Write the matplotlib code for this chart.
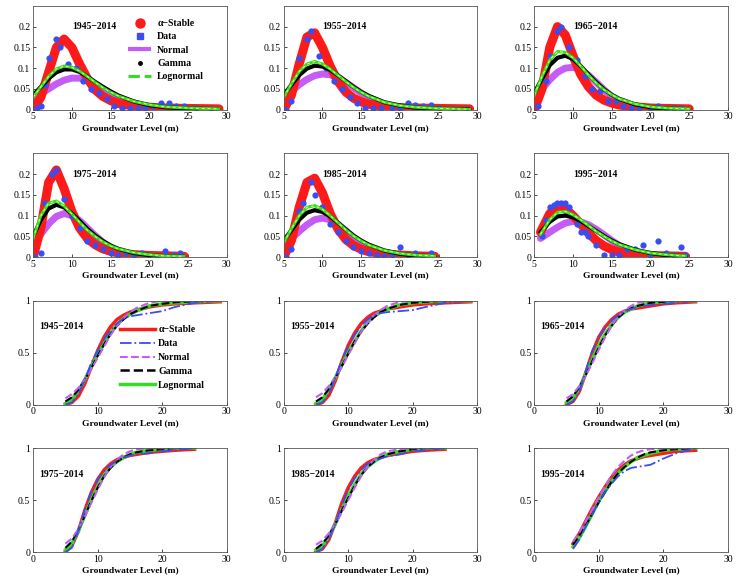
#Graficos das distribuicoes (PDF e CDF) do nivel da agua subterranea
import matplotlib
matplotlib.use('Agg')
import matplotlib.pyplot as plt
from matplotlib.lines import Line2D

periodos = ['1945\u22122014', '1955\u22122014', '1965\u22122014',
            '1975\u22122014', '1985\u22122014', '1995\u22122014']

# ---------------- PDF: grade x de cada periodo ----------------
x_pdf = [
    [5, 6, 7, 8, 9, 10, 11, 12, 13, 14, 15, 16, 18, 20, 22, 25, 29],
    [5, 6, 7, 8, 9, 10, 11, 12, 13, 14, 15, 16, 18, 20, 22, 25, 29],
    [5, 6, 7, 8, 9, 10, 11, 12, 13, 14, 15, 16, 18, 20, 22, 25],
    [5, 6, 7, 8, 9, 10, 11, 12, 13, 14, 15, 16, 18, 20, 22, 24.5],
    [5, 6, 7, 8, 9, 10, 11, 12, 13, 14, 15, 16, 18, 20, 22, 24.5],
    [5.8, 7, 8, 9, 10, 11, 12, 13, 14, 15, 16, 18, 20, 22, 24.5],
]
stable_pdf = [
    [0.0, 0.03, 0.09, 0.15, 0.17, 0.15, 0.11, 0.075, 0.048, 0.032, 0.022, 0.015, 0.009, 0.006, 0.004, 0.003, 0.002],
    [0.0, 0.035, 0.11, 0.175, 0.185, 0.15, 0.105, 0.068, 0.043, 0.028, 0.019, 0.013, 0.008, 0.005, 0.004, 0.003, 0.002],
    [0.0, 0.05, 0.15, 0.2, 0.18, 0.13, 0.085, 0.055, 0.035, 0.023, 0.016, 0.011, 0.007, 0.004, 0.003, 0.002],
    [0.0, 0.07, 0.18, 0.21, 0.165, 0.11, 0.07, 0.045, 0.03, 0.02, 0.014, 0.01, 0.006, 0.004, 0.003, 0.002],
    [0.0, 0.04, 0.12, 0.18, 0.19, 0.155, 0.105, 0.068, 0.043, 0.028, 0.019, 0.013, 0.008, 0.005, 0.003, 0.002],
    [0.06, 0.105, 0.12, 0.117, 0.1, 0.08, 0.058, 0.04, 0.027, 0.018, 0.012, 0.006, 0.004, 0.003, 0.002],
]
normal_pdf = [
    [0.025, 0.038, 0.05, 0.062, 0.071, 0.076, 0.076, 0.071, 0.062, 0.051, 0.04, 0.03, 0.015, 0.006, 0.002, 0.0005, 0.0],
    [0.03, 0.045, 0.06, 0.073, 0.082, 0.086, 0.084, 0.077, 0.066, 0.053, 0.04, 0.029, 0.013, 0.004, 0.001, 0.0, 0.0],
    [0.03, 0.05, 0.072, 0.09, 0.1, 0.102, 0.096, 0.083, 0.066, 0.048, 0.032, 0.02, 0.006, 0.001, 0.0, 0.0],
    [0.03, 0.055, 0.08, 0.098, 0.105, 0.1, 0.088, 0.07, 0.052, 0.036, 0.023, 0.013, 0.004, 0.001, 0.0, 0.0],
    [0.03, 0.045, 0.062, 0.078, 0.09, 0.094, 0.09, 0.079, 0.064, 0.048, 0.034, 0.022, 0.008, 0.002, 0.0, 0.0],
    [0.045, 0.06, 0.072, 0.082, 0.086, 0.085, 0.078, 0.067, 0.054, 0.04, 0.028, 0.011, 0.003, 0.001, 0.0],
]
gamma_pdf = [
    [0.035, 0.055, 0.075, 0.09, 0.097, 0.097, 0.091, 0.08, 0.067, 0.055, 0.044, 0.034, 0.02, 0.011, 0.006, 0.003, 0.001],
    [0.035, 0.06, 0.083, 0.099, 0.106, 0.104, 0.096, 0.083, 0.069, 0.055, 0.043, 0.033, 0.018, 0.01, 0.005, 0.002, 0.001],
    [0.04, 0.075, 0.107, 0.125, 0.13, 0.122, 0.105, 0.085, 0.066, 0.049, 0.036, 0.026, 0.013, 0.006, 0.003, 0.001],
    [0.05, 0.09, 0.117, 0.126, 0.12, 0.105, 0.087, 0.068, 0.052, 0.039, 0.028, 0.02, 0.01, 0.005, 0.002, 0.001],
    [0.04, 0.065, 0.09, 0.107, 0.113, 0.109, 0.098, 0.083, 0.067, 0.052, 0.04, 0.03, 0.016, 0.008, 0.004, 0.002],
    [0.06, 0.085, 0.098, 0.1, 0.096, 0.087, 0.075, 0.063, 0.051, 0.04, 0.031, 0.018, 0.01, 0.005, 0.002],
]
lognormal_pdf = [
    [0.03, 0.055, 0.08, 0.098, 0.105, 0.102, 0.093, 0.08, 0.066, 0.053, 0.042, 0.033, 0.02, 0.012, 0.007, 0.004, 0.002],
    [0.03, 0.062, 0.092, 0.11, 0.116, 0.11, 0.098, 0.083, 0.068, 0.054, 0.042, 0.032, 0.018, 0.01, 0.006, 0.003, 0.001],
    [0.035, 0.08, 0.12, 0.14, 0.138, 0.125, 0.105, 0.083, 0.064, 0.048, 0.036, 0.026, 0.014, 0.007, 0.004, 0.002],
    [0.045, 0.1, 0.13, 0.135, 0.123, 0.104, 0.084, 0.065, 0.05, 0.037, 0.027, 0.02, 0.011, 0.006, 0.003, 0.002],
    [0.035, 0.068, 0.1, 0.12, 0.124, 0.115, 0.1, 0.083, 0.066, 0.051, 0.039, 0.029, 0.016, 0.009, 0.005, 0.003],
    [0.055, 0.09, 0.108, 0.11, 0.102, 0.09, 0.076, 0.062, 0.05, 0.039, 0.03, 0.018, 0.01, 0.006, 0.003],
]
# pontos dos dados (histograma normalizado)
dados_x = [
    [5.5, 6, 6.5, 7, 8, 8.5, 9.5, 10.5, 11.5, 12.5, 13.5, 14.5, 15.5, 16.5, 17.5, 18.5, 19.5, 20.5, 21.5, 22.5, 23.5, 24.5, 26, 28],
    [5.3, 6, 7, 8, 8.5, 9.5, 10.5, 11.5, 12.5, 13.5, 14.5, 15.5, 16.5, 17.5, 19, 20, 21, 22, 23, 24, 25, 27, 28.5],
    [5.5, 6.5, 7, 8, 8.5, 9.5, 10.5, 11.5, 12.5, 13.5, 14.5, 15.5, 16.5, 17.5, 18.5, 20, 21, 22, 23, 24],
    [5.3, 6, 6.5, 7.5, 8, 9, 10, 11, 12, 13, 14, 15, 16, 17, 18, 19, 20, 21, 22, 23, 24],
    [5.3, 6, 7, 7.5, 8.5, 9, 10, 11, 12, 13, 14, 15, 16, 17, 18, 19, 20, 21, 22, 23, 24],
    [6, 6.5, 7, 7.5, 8, 8.5, 9, 9.5, 10, 10.5, 11, 11.5, 12, 13, 14, 15, 16, 17, 18, 19, 20, 21, 22, 23, 24, 24.5],
]
dados_y = [
    [0.005, 0.01, 0.06, 0.125, 0.17, 0.15, 0.11, 0.1, 0.07, 0.05, 0.04, 0.025, 0.01, 0.005, 0.003, 0.003, 0.005, 0.01, 0.015, 0.015, 0.01, 0.01, 0.003, 0.002],
    [0.0, 0.02, 0.125, 0.17, 0.19, 0.13, 0.1, 0.07, 0.05, 0.03, 0.015, 0.005, 0.003, 0.003, 0.003, 0.005, 0.015, 0.012, 0.008, 0.012, 0.003, 0.002, 0.002],
    [0.01, 0.07, 0.13, 0.19, 0.2, 0.15, 0.12, 0.08, 0.05, 0.045, 0.02, 0.02, 0.01, 0.005, 0.005, 0.003, 0.01, 0.005, 0.003, 0.005],
    [0.0, 0.01, 0.13, 0.2, 0.21, 0.14, 0.1, 0.07, 0.04, 0.03, 0.02, 0.01, 0.005, 0.01, 0.005, 0.01, 0.005, 0.003, 0.015, 0.005, 0.01],
    [0.0, 0.02, 0.11, 0.13, 0.18, 0.15, 0.12, 0.08, 0.06, 0.04, 0.025, 0.015, 0.01, 0.005, 0.003, 0.005, 0.025, 0.005, 0.01, 0.003, 0.01],
    [0.05, 0.09, 0.12, 0.125, 0.13, 0.13, 0.13, 0.12, 0.1, 0.08, 0.06, 0.06, 0.05, 0.03, 0.005, 0.005, 0.005, 0.02, 0.02, 0.03, 0.005, 0.04, 0.01, 0.005, 0.025, 0.005],
]

# ---------------- CDF ----------------
x_cdf = [
    [5, 6, 7, 8, 9, 10, 11, 12, 13, 14, 15, 16, 18, 20, 22, 25, 29],
    [5, 6, 7, 8, 9, 10, 11, 12, 13, 14, 15, 16, 18, 20, 22, 25, 29],
    [5, 6, 7, 8, 9, 10, 11, 12, 13, 14, 15, 16, 18, 20, 22, 25],
    [5, 6, 7, 8, 9, 10, 11, 12, 13, 14, 15, 16, 18, 20, 22, 25],
    [5, 6, 7, 8, 9, 10, 11, 12, 13, 14, 15, 16, 18, 20, 22, 25],
    [6, 7, 8, 9, 10, 11, 12, 13, 14, 15, 16, 17, 18, 20, 22, 25],
]
stable_cdf = [
    [0.0, 0.02, 0.08, 0.2, 0.36, 0.52, 0.65, 0.75, 0.82, 0.86, 0.89, 0.91, 0.94, 0.96, 0.97, 0.98, 0.99],
    [0.0, 0.02, 0.09, 0.23, 0.41, 0.57, 0.69, 0.78, 0.84, 0.88, 0.9, 0.92, 0.94, 0.96, 0.97, 0.98, 0.99],
    [0.0, 0.03, 0.13, 0.31, 0.5, 0.65, 0.75, 0.82, 0.87, 0.9, 0.92, 0.93, 0.95, 0.97, 0.98, 0.99],
    [0.0, 0.06, 0.2, 0.4, 0.57, 0.7, 0.79, 0.85, 0.89, 0.91, 0.93, 0.94, 0.96, 0.97, 0.98, 0.99],
    [0.0, 0.03, 0.12, 0.28, 0.47, 0.62, 0.73, 0.81, 0.86, 0.89, 0.91, 0.93, 0.95, 0.97, 0.98, 0.99],
    [0.08, 0.18, 0.3, 0.42, 0.53, 0.63, 0.72, 0.79, 0.84, 0.88, 0.9, 0.92, 0.93, 0.95, 0.97, 0.98],
]
dados_cdf = [
    [0.0, 0.02, 0.1, 0.24, 0.4, 0.52, 0.63, 0.72, 0.78, 0.83, 0.85, 0.86, 0.88, 0.9, 0.94, 0.98, 1.0],
    [0.0, 0.02, 0.1, 0.26, 0.43, 0.56, 0.67, 0.76, 0.82, 0.86, 0.88, 0.89, 0.9, 0.91, 0.94, 0.98, 1.0],
    [0.0, 0.03, 0.13, 0.33, 0.52, 0.65, 0.74, 0.81, 0.86, 0.9, 0.92, 0.94, 0.96, 0.97, 0.98, 1.0],
    [0.0, 0.04, 0.2, 0.41, 0.58, 0.7, 0.78, 0.84, 0.88, 0.91, 0.93, 0.94, 0.95, 0.97, 0.98, 1.0],
    [0.0, 0.03, 0.13, 0.27, 0.45, 0.6, 0.71, 0.79, 0.85, 0.88, 0.9, 0.92, 0.94, 0.97, 0.98, 1.0],
    [0.03, 0.12, 0.25, 0.37, 0.48, 0.58, 0.66, 0.73, 0.78, 0.81, 0.82, 0.83, 0.84, 0.9, 0.95, 1.0],
]
normal_cdf = [
    [0.06, 0.1, 0.16, 0.24, 0.34, 0.45, 0.56, 0.67, 0.76, 0.83, 0.89, 0.93, 0.98, 1.0, 1.0, 1.0, 1.0],
    [0.07, 0.11, 0.18, 0.26, 0.36, 0.48, 0.59, 0.7, 0.79, 0.86, 0.91, 0.95, 0.99, 1.0, 1.0, 1.0, 1.0],
    [0.06, 0.1, 0.18, 0.28, 0.4, 0.53, 0.65, 0.76, 0.85, 0.91, 0.95, 0.98, 1.0, 1.0, 1.0, 1.0],
    [0.08, 0.13, 0.22, 0.34, 0.47, 0.6, 0.72, 0.82, 0.89, 0.94, 0.97, 0.99, 1.0, 1.0, 1.0, 1.0],
    [0.07, 0.11, 0.18, 0.27, 0.38, 0.5, 0.62, 0.73, 0.82, 0.89, 0.94, 0.97, 0.99, 1.0, 1.0, 1.0],
    [0.1, 0.19, 0.3, 0.41, 0.53, 0.64, 0.74, 0.82, 0.88, 0.93, 0.96, 0.98, 0.99, 1.0, 1.0, 1.0],
]
gamma_cdf = [
    [0.03, 0.07, 0.14, 0.24, 0.35, 0.47, 0.58, 0.68, 0.76, 0.82, 0.87, 0.9, 0.95, 0.97, 0.985, 0.995, 1.0],
    [0.03, 0.07, 0.15, 0.26, 0.37, 0.49, 0.61, 0.7, 0.78, 0.84, 0.89, 0.92, 0.96, 0.98, 0.99, 1.0, 1.0],
    [0.03, 0.08, 0.17, 0.29, 0.42, 0.55, 0.67, 0.76, 0.84, 0.89, 0.93, 0.95, 0.98, 0.99, 1.0, 1.0],
    [0.04, 0.1, 0.21, 0.35, 0.49, 0.62, 0.73, 0.81, 0.87, 0.91, 0.94, 0.96, 0.98, 0.99, 1.0, 1.0],
    [0.03, 0.08, 0.16, 0.27, 0.4, 0.52, 0.64, 0.74, 0.82, 0.87, 0.91, 0.94, 0.97, 0.99, 1.0, 1.0],
    [0.07, 0.16, 0.26, 0.37, 0.48, 0.58, 0.68, 0.76, 0.82, 0.87, 0.91, 0.94, 0.96, 0.98, 0.99, 1.0],
]
lognormal_cdf = [
    [0.01, 0.05, 0.13, 0.24, 0.36, 0.48, 0.59, 0.69, 0.77, 0.83, 0.87, 0.9, 0.95, 0.97, 0.98, 0.99, 1.0],
    [0.01, 0.05, 0.14, 0.26, 0.38, 0.5, 0.61, 0.71, 0.79, 0.85, 0.89, 0.92, 0.96, 0.98, 0.99, 1.0, 1.0],
    [0.02, 0.06, 0.16, 0.3, 0.44, 0.57, 0.68, 0.77, 0.84, 0.89, 0.92, 0.95, 0.98, 0.99, 1.0, 1.0],
    [0.02, 0.08, 0.2, 0.35, 0.5, 0.63, 0.74, 0.82, 0.87, 0.91, 0.94, 0.96, 0.98, 0.99, 1.0, 1.0],
    [0.02, 0.06, 0.15, 0.27, 0.41, 0.54, 0.65, 0.75, 0.82, 0.87, 0.91, 0.94, 0.97, 0.99, 1.0, 1.0],
    [0.05, 0.14, 0.25, 0.37, 0.49, 0.59, 0.68, 0.76, 0.82, 0.87, 0.91, 0.93, 0.95, 0.98, 0.99, 1.0],
]

nomes = ['\u03b1\u2212Stable', 'Data', 'Normal', 'Gamma', 'Lognormal']

VERMELHO = '#ff1a1a'
AZUL = '#3a4cf2'
MAGENTA = '#c45cf5'
VERDE = '#33dd22'
fonte = 'Liberation Serif'


def estilo_eixo(ax):
    ax.tick_params(direction='in', length=2, width=0.5, labelsize=7, pad=2)
    for lab in ax.get_xticklabels() + ax.get_yticklabels():
        lab.set_fontfamily(fonte)
    for s in ax.spines.values():
        s.set_linewidth(0.6)
        s.set_color('#555555')
    ax.set_xlabel('Groundwater Level (m)', fontsize=6.8, family=fonte,
                  fontweight='bold', labelpad=2)


def main():
    fig, axs = plt.subplots(4, 3, figsize=(7.36, 5.86), dpi=100)
    plt.subplots_adjust(left=0.045, right=0.989, bottom=0.058, top=0.99,
                        wspace=0.294, hspace=0.42)

    # linhas 1 e 2: PDFs
    for i in range(6):
        ax = axs[i // 3][i % 3]
        ax.plot(x_pdf[i], normal_pdf[i], color=MAGENTA, lw=5, solid_capstyle='round')
        ax.plot(x_pdf[i], stable_pdf[i], color=VERMELHO, lw=6.5, solid_capstyle='round',
                solid_joinstyle='round')
        ax.plot(dados_x[i], dados_y[i], 'o', color=AZUL, ms=4.5, mec='none')
        ax.plot(x_pdf[i], gamma_pdf[i], color='black', lw=3, solid_capstyle='round')
        ax.plot(x_pdf[i], lognormal_pdf[i], color=VERDE, lw=2.2)
        ax.plot(x_pdf[i], lognormal_pdf[i], color='#eeff66', lw=0.7, ls=(0, (3, 3)))
        ax.set_xlim(5, 30)
        ax.set_ylim(0, 0.25)
        ax.set_xticks([5, 10, 15, 20, 25, 30])
        ax.set_yticks([0, 0.05, 0.1, 0.15, 0.2])
        ax.set_yticklabels(['0', '0.05', '0.1', '0.15', '0.2'])
        ax.text(10, 0.2, periodos[i], fontsize=7, family=fonte, fontweight='bold',
                va='center', ha='left')
        estilo_eixo(ax)

    # legenda do primeiro painel de PDF
    h_pdf = [Line2D([], [], ls='none', marker='o', color=VERMELHO, ms=6.5),
             Line2D([], [], ls='none', marker='s', color=AZUL, ms=4),
             Line2D([], [], ls='-.', color=MAGENTA, lw=3),
             Line2D([], [], ls='none', marker='.', color='black', ms=5),
             Line2D([], [], ls='--', color=VERDE, lw=2.2)]
    axs[0][0].legend(h_pdf, nomes, loc='upper left', bbox_to_anchor=(0.46, 0.93),
                     frameon=False, prop={'family': fonte, 'size': 7, 'weight': 'bold'},
                     handlelength=2.4, labelspacing=0.45, borderpad=0.1, handletextpad=0.6)

    # linhas 3 e 4: CDFs
    for i in range(6):
        ax = axs[2 + i // 3][i % 3]
        ax.plot(x_cdf[i], stable_cdf[i], color=VERMELHO, lw=2.5)
        ax.plot(x_cdf[i], lognormal_cdf[i], color=VERDE, lw=2.5)
        ax.plot(x_cdf[i], gamma_cdf[i], color='black', lw=1.5, ls='--')
        ax.plot(x_cdf[i], normal_cdf[i], color=MAGENTA, lw=1.5, ls='--')
        ax.plot(x_cdf[i], dados_cdf[i], color=AZUL, lw=1.3, ls='-.')
        ax.set_xlim(0, 30)
        ax.set_ylim(0, 1)
        ax.set_xticks([0, 10, 20, 30])
        ax.set_yticks([0, 0.5, 1])
        ax.set_yticklabels(['0', '0.5', '1'])
        ax.text(1, 0.75, periodos[i], fontsize=7, family=fonte, fontweight='bold',
                va='center', ha='left')
        estilo_eixo(ax)

    h_cdf = [Line2D([], [], ls='-', color=VERMELHO, lw=2.5),
             Line2D([], [], ls='-.', color=AZUL, lw=1.3),
             Line2D([], [], ls='--', color=MAGENTA, lw=1.5),
             Line2D([], [], ls='--', color='black', lw=1.8),
             Line2D([], [], ls='-', color=VERDE, lw=2.5)]
    axs[2][0].legend(h_cdf, nomes, loc='upper left', bbox_to_anchor=(0.42, 0.82),
                     frameon=False, prop={'family': fonte, 'size': 7, 'weight': 'bold'},
                     handlelength=3.6, labelspacing=0.5, borderpad=0.1, handletextpad=0.3)

    plt.savefig('out.png', dpi=100)


if __name__ == "__main__":
    main()
